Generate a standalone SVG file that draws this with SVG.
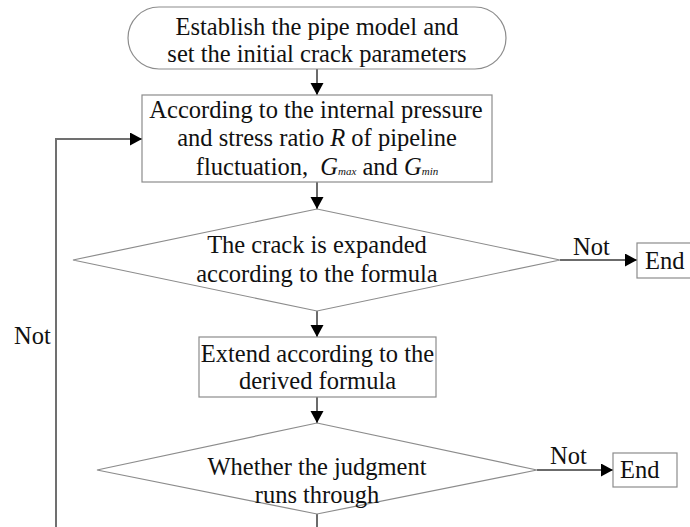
<svg xmlns="http://www.w3.org/2000/svg" width="690" height="527" viewBox="0 0 690 527">
<style>
.shape{fill:#fff;stroke:#8c8c8c;stroke-width:1.2}
.conn{fill:none;stroke:#3a3a3a;stroke-width:1.5}
.fb{fill:none;stroke:#707070;stroke-width:2}
.t{font-family:"Liberation Serif","Times New Roman",serif;font-size:24.5px;fill:#111}
.c{text-anchor:middle}
.i{font-style:italic}
.sub{font-style:italic;font-size:11px}
</style>
<defs>
<marker id="ah" markerUnits="userSpaceOnUse" markerWidth="14" markerHeight="14" refX="12" refY="6.5" orient="auto">
<path d="M0,0 L12,6.5 L0,13 Z" fill="#000"/>
</marker>
</defs>
<rect width="690" height="527" fill="#fff"/>
<g class="t">
<g id="connectors">
<line class="conn" x1="317" y1="69" x2="317" y2="95" marker-end="url(#ah)"/>
<line class="conn" x1="317" y1="182" x2="317" y2="209" marker-end="url(#ah)"/>
<line class="conn" x1="317" y1="311" x2="317" y2="337" marker-end="url(#ah)"/>
<line class="conn" x1="317" y1="397" x2="317" y2="423" marker-end="url(#ah)"/>
<line class="conn" x1="560" y1="260" x2="637" y2="260" marker-end="url(#ah)"/>
<line class="conn" x1="537" y1="470" x2="613" y2="470" marker-end="url(#ah)"/>
<line class="conn" x1="317" y1="514" x2="317" y2="528"/>
<polyline class="fb" points="56,528 56,139 142,139" marker-end="url(#ah)"/>
<text x="573" y="255">Not</text>
<text x="550" y="464">Not</text>
<text x="14" y="344">Not</text>
</g>
<g id="start">
<rect class="shape" x="128" y="7" width="378" height="62" rx="31" ry="31"/>
<text class="c" x="317" y="35">Establish the pipe model and</text>
<text class="c" x="317" y="62">set the initial crack parameters</text>
</g>
<g id="compute">
<rect class="shape" x="142" y="95" width="350" height="87"/>
<text class="c" x="316" y="118">According to the internal pressure</text>
<text class="c" x="317" y="146">and stress ratio <tspan class="i">R</tspan> of pipeline</text>
<text class="c" x="317" y="175">fluctuation,&#160; <tspan class="i">G</tspan><tspan class="sub">max</tspan> and <tspan class="i">G</tspan><tspan class="sub">min</tspan></text>
</g>
<g id="decision1">
<polygon class="shape" points="317,209 560,260 317,311 73,260"/>
<text class="c" x="317" y="253">The crack is expanded</text>
<text class="c" x="317" y="282">according to the formula</text>
</g>
<g id="end1">
<rect class="shape" x="637" y="243" width="57" height="35"/>
<text x="645" y="269">End</text>
</g>
<g id="extend">
<rect class="shape" x="199" y="337" width="237" height="60"/>
<text class="c" x="317.5" y="362">Extend according to the</text>
<text class="c" x="317.5" y="389">derived formula</text>
</g>
<g id="decision2">
<polygon class="shape" points="317,423 537,470 317,514 97,470"/>
<text class="c" x="317" y="475">Whether the judgment</text>
<text class="c" x="317" y="503">runs through</text>
</g>
<g id="end2">
<rect class="shape" x="613" y="453" width="64" height="34"/>
<text x="620" y="478">End</text>
</g>
</g>
</svg>
